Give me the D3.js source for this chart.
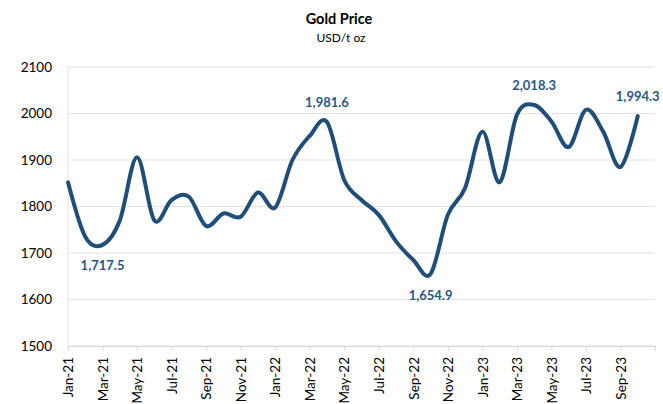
<!DOCTYPE html>
<html>
<head>
    <script src="https://d3js.org/d3.v7.min.js"></script>
    <style>
        body { margin: 0; background: #fff; }
        text { font-family: Lato, "Open Sans", sans-serif; }
    </style>
</head>
<body>
<div id="chart"></div>

<script>
    // monthly gold price, USD/t oz
    var months = ["Jan-21","Feb-21","Mar-21","Apr-21","May-21","Jun-21","Jul-21","Aug-21","Sep-21","Oct-21","Nov-21","Dec-21",
                  "Jan-22","Feb-22","Mar-22","Apr-22","May-22","Jun-22","Jul-22","Aug-22","Sep-22","Oct-22","Nov-22","Dec-22",
                  "Jan-23","Feb-23","Mar-23","Apr-23","May-23","Jun-23","Jul-23","Aug-23","Sep-23","Oct-23"];
    var prices = [1852, 1735, 1717.5, 1770, 1906, 1770, 1814, 1821, 1758, 1785, 1778, 1830,
                  1798, 1900, 1952, 1981.6, 1857, 1814, 1782, 1725, 1685, 1654.9, 1782, 1840,
                  1961, 1852, 1997, 2018.3, 1983, 1928, 2008, 1961, 1885, 1994.3];
    var tickLabels = ["Jan-21","Mar-21","May-21","Jul-21","Sep-21","Nov-21","Jan-22","Mar-22","May-22",
                      "Jul-22","Sep-22","Nov-22","Jan-23","Mar-23","May-23","Jul-23","Sep-23"];
    var yTicks = [1500, 1600, 1700, 1800, 1900, 2000, 2100];
    // months that carry a value label
    var labelled = ["Mar-21", "Apr-22", "Oct-22", "Apr-23", "Oct-23"];

    var margin = { top: 67, right: 8, bottom: 58, left: 68 },
        W = 663, H = 404,
        width = W - margin.left - margin.right,
        height = H - margin.top - margin.bottom;

    var svg = d3.select("#chart").append("svg")
        .attr("width", W)
        .attr("height", H);

    var g = svg.append("g")
        .attr("transform", "translate(" + margin.left + "," + margin.top + ")");

    // date axis runs one month past the last point
    var x = d3.scaleLinear().domain([0, months.length]).range([0, width]);
    var y = d3.scaleLinear().domain([1500, 2100]).range([height, 0]);

    // horizontal gridlines
    g.selectAll(".grid").data(yTicks).enter().append("line")
        .attr("x1", 0).attr("x2", width)
        .attr("y1", function(d) { return y(d); })
        .attr("y2", function(d) { return y(d); })
        .attr("stroke", "#e3e3e3").attr("stroke-width", 1);

    // left edge
    g.append("line").attr("x1", 0).attr("x2", 0).attr("y1", 0).attr("y2", height)
        .attr("stroke", "#e3e3e3");

    // y axis labels
    var yAxis = d3.axisLeft(y).tickValues(yTicks).tickSize(0).tickPadding(16).tickFormat(d3.format("d"));
    var ya = g.append("g").call(yAxis);
    ya.select(".domain").remove();
    ya.selectAll("text").attr("font-size", 13.5).attr("fill", "#000")
        .style("font-family", "Lato, sans-serif");

    // x axis: ticks every two months
    var tickVals = d3.range(0, months.length + 1, 2);
    var xAxis = d3.axisBottom(x).tickValues(tickVals).tickSize(5).tickPadding(6)
        .tickFormat(function(d) { return tickLabels[d / 2] || ""; });
    var xa = g.append("g").attr("transform", "translate(0," + height + ")").call(xAxis);
    xa.select(".domain").attr("stroke", "#d9d9d9");
    xa.selectAll(".tick line").attr("stroke", "#d9d9d9");
    xa.selectAll("text")
        .attr("font-size", 13.5).attr("fill", "#000")
        .style("font-family", "Lato, sans-serif")
        .attr("text-anchor", "end")
        .attr("dy", "0.35em")
        .attr("transform", "translate(0,11) rotate(-90)")
        .attr("x", 0).attr("y", 0);

    // price line
    var line = d3.line()
        .x(function(d, i) { return x(i); })
        .y(function(d) { return y(d); })
        .curve(d3.curveCardinal.tension(0));

    g.append("path").datum(prices)
        .attr("d", line)
        .attr("fill", "none")
        .attr("stroke", "#1f4e79")
        .attr("stroke-width", 4)
        .attr("stroke-linecap", "round")
        .attr("stroke-linejoin", "round");

    // value labels, above peaks and below troughs
    var fmt = d3.format(",.1f");
    labelled.forEach(function(m) {
        var i = months.indexOf(m), v = prices[i];
        var prev = i > 0 ? prices[i - 1] : v, next = i < prices.length - 1 ? prices[i + 1] : prev;
        var below = v < prev && v < next;
        g.append("text")
            .attr("x", x(i))
            .attr("y", y(v) + (below ? 21 : -20))
            .attr("dy", "0.35em")
            .attr("text-anchor", "middle")
            .attr("font-size", 13)
            .attr("font-weight", "bold")
            .attr("fill", "#2a5783")
            .text(fmt(v));
    });

    // titles
    svg.append("text").attr("x", 339).attr("y", 24)
        .attr("text-anchor", "middle").attr("font-size", 14.5).attr("font-weight", "bold")
        .text("Gold Price");
    svg.append("text").attr("x", 341).attr("y", 42)
        .attr("text-anchor", "middle").attr("font-size", 12)
        .text("USD/t oz");
</script>
</body>
</html>
